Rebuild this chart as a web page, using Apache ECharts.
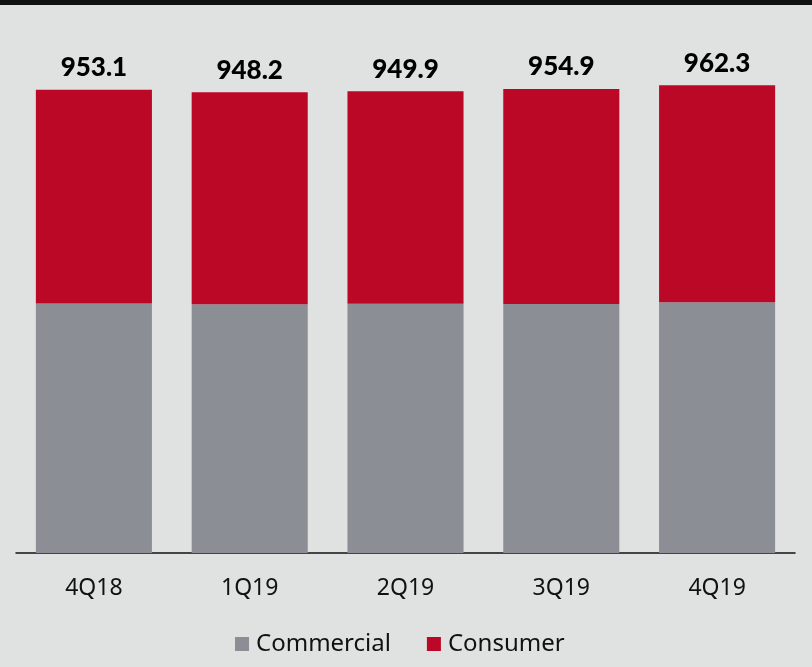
<!DOCTYPE html>
<html>
<head>
<meta charset="utf-8">
<script src="https://cdn.jsdelivr.net/npm/echarts@6/dist/echarts.min.js"></script>
<style>
  html, body { margin: 0; padding: 0; background: #e0e2e1; }
  #chart { width: 812px; height: 667px; }
</style>
</head>
<body>
<div id="chart"></div>
<script>
// Average loans by quarter ($ billions)
const quarters = ['4Q18', '1Q19', '2Q19', '3Q19', '4Q19'];
const commercial = [513.4, 511.7, 513.1, 512.6, 515.7];
const consumer = [439.7, 436.5, 436.8, 442.3, 446.6];

const COLOR_COMMERCIAL = '#8b8e95';
const COLOR_CONSUMER = '#bb0826';

const chart = echarts.init(document.getElementById('chart'));

chart.setOption({
  backgroundColor: '#e0e2e1',
  animation: false,
  graphic: [{
    type: 'rect',
    left: 0, top: 0,
    shape: { width: 812, height: 5 },
    style: { fill: '#111111' },
    silent: true
  }],
  grid: { left: 16, right: 17, top: 67, bottom: 114 },
  legend: {
    left: 235,
    top: 632,
    padding: 0,
    itemWidth: 14,
    itemHeight: 14,
    itemGap: 36,
    icon: 'rect',
    textStyle: { fontFamily: 'Noto Sans', fontSize: 24, color: '#111', padding: [0, 0, 0, 2] },
    data: ['Commercial', 'Consumer']
  },
  xAxis: {
    type: 'category',
    data: quarters,
    axisLine: { lineStyle: { color: '#111', width: 1.5 } },
    axisTick: { show: false },
    axisLabel: { fontFamily: 'Noto Sans', fontSize: 23, color: '#111', margin: 24 }
  },
  yAxis: {
    type: 'value',
    min: 0,
    max: 1000,
    show: false,
    splitLine: { show: false }
  },
  series: [
    {
      name: 'Commercial',
      type: 'bar',
      stack: 'loans',
      barWidth: '74.5%',
      itemStyle: { color: COLOR_COMMERCIAL },
      data: commercial
    },
    {
      name: 'Consumer',
      type: 'bar',
      stack: 'loans',
      barWidth: '74.5%',
      itemStyle: { color: COLOR_CONSUMER },
      label: {
        show: true,
        position: 'top',
        distance: 9,
        fontFamily: 'Lato',
        fontWeight: 900,
        fontSize: 26,
        color: '#000',
        formatter: (p) => (commercial[p.dataIndex] + consumer[p.dataIndex]).toFixed(1)
      },
      data: consumer
    }
  ]
});
</script>
</body>
</html>
